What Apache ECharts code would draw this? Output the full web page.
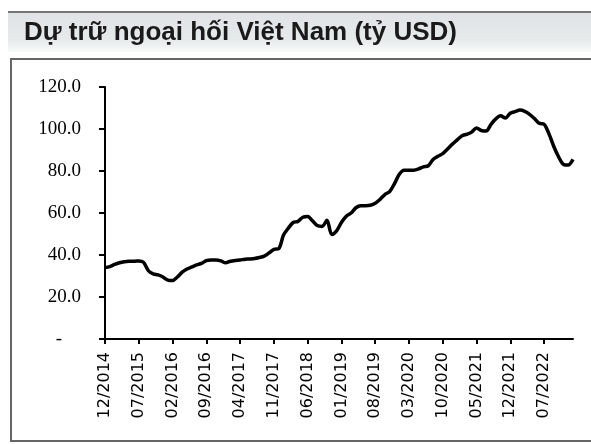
<!DOCTYPE html>
<html>
<head>
<meta charset="utf-8">
<script src="https://cdn.jsdelivr.net/npm/echarts@6/dist/echarts.min.js"></script>
<style>
  html, body { margin: 0; padding: 0; background: #fff; }
  #main { width: 591px; height: 444px; }
</style>
</head>
<body>
<div id="main"></div>
<script>
// tháng, từ 12/2014 đến 01/2023
let months = [];
for (let y = 2014, m = 12; months.length < 98; ) {
    months.push((m < 10 ? '0' + m : '' + m) + '/' + y);
    m++;
    if (m > 12) { m = 1; y++; }
}
// dự trữ ngoại hối (tỷ USD)
let reserves = [
    34.0, 34.5, 35.5, 36.3, 36.8, 37.0, 37.0, 37.2, 36.5, 32.5,
    31.0, 30.5, 29.5, 28.0, 27.8, 29.5, 31.8, 33.3, 34.3, 35.3,
    36.0, 37.3, 37.6, 37.6, 37.2, 36.3, 37.0, 37.4, 37.6, 38.0,
    38.1, 38.3, 38.8, 39.5, 41.0, 42.7, 43.0, 49.5, 52.8, 55.5,
    56.0, 58.0, 58.3, 56.3, 54.0, 53.6, 56.5, 49.8, 51.5, 55.5,
    58.5, 60.0, 62.5, 63.5, 63.5, 63.7, 64.6, 66.5, 68.8, 70.2,
    74.0, 78.5, 80.4, 80.4, 80.4, 81.0, 82.0, 82.5, 85.5, 87.0,
    88.3, 90.5, 92.8, 94.8, 96.8, 97.5, 98.5, 100.5, 99.3, 99.0,
    102.2, 104.8, 106.3, 105.2, 107.5, 108.3, 109.0, 108.4, 107.0, 105.0,
    102.7, 102.3, 97.8, 91.8, 86.8, 83.2, 82.8, 85.5
];

let chart = echarts.init(document.getElementById('main'));

let option = {
    backgroundColor: '#fff',
    animation: false,
    title: {
        text: 'Dự trữ ngoại hối Việt Nam (tỷ USD)',
        left: 19,
        top: 15,
        textStyle: {
            fontFamily: 'Liberation Sans, Arial',
            fontWeight: 'bold',
            fontSize: 26,
            color: '#1a1a1a'
        }
    },
    graphic: [
        // dải tiêu đề
        {
            type: 'rect',
            z: -1,
            shape: {x: 8, y: 12, width: 600, height: 40},
            style: {
                fill: new echarts.graphic.LinearGradient(0, 0, 0, 1, [
                    {offset: 0, color: '#dfe3e7'},
                    {offset: 0.7, color: '#e6eaea'},
                    {offset: 1, color: '#f7faf9'}
                ])
            }
        },
        {
            type: 'line',
            shape: {x1: 8, y1: 12, x2: 620, y2: 12},
            style: {stroke: '#777', lineWidth: 2}
        },
        // khung biểu đồ
        {
            type: 'polyline',
            shape: {points: [[620, 59], [11, 59], [11, 441], [620, 441]]},
            style: {stroke: '#666', lineWidth: 2, fill: null}
        }
    ],
    grid: {
        left: 105,
        top: 87,
        right: 18,
        bottom: 105
    },
    xAxis: {
        type: 'category',
        data: months,
        boundaryGap: false,
        axisLine: {lineStyle: {color: '#000', width: 2}},
        axisTick: {
            interval: 6,
            length: 5,
            lineStyle: {color: '#000', width: 2}
        },
        axisLabel: {
            interval: 6,
            rotate: 90,
            margin: 13,
            color: '#000',
            fontFamily: 'DejaVu Sans',
            fontSize: 16
        }
    },
    yAxis: {
        type: 'value',
        min: 0,
        max: 120,
        interval: 20,
        splitLine: {show: false},
        axisLine: {show: true, lineStyle: {color: '#000', width: 2}},
        axisTick: {show: true, length: 6, lineStyle: {color: '#000', width: 2}},
        axisLabel: {
            margin: 24,
            color: '#000',
            fontFamily: 'Liberation Serif, Times New Roman',
            fontSize: 19,
            formatter: function (v) {
                return v === 0 ? '-    ' : v.toFixed(1);
            }
        }
    },
    series: [
        {
            type: 'line',
            data: reserves,
            showSymbol: false,
            smooth: 0.3,
            lineStyle: {color: '#000', width: 3.5}
        }
    ]
};

chart.setOption(option);
</script>
</body>
</html>
